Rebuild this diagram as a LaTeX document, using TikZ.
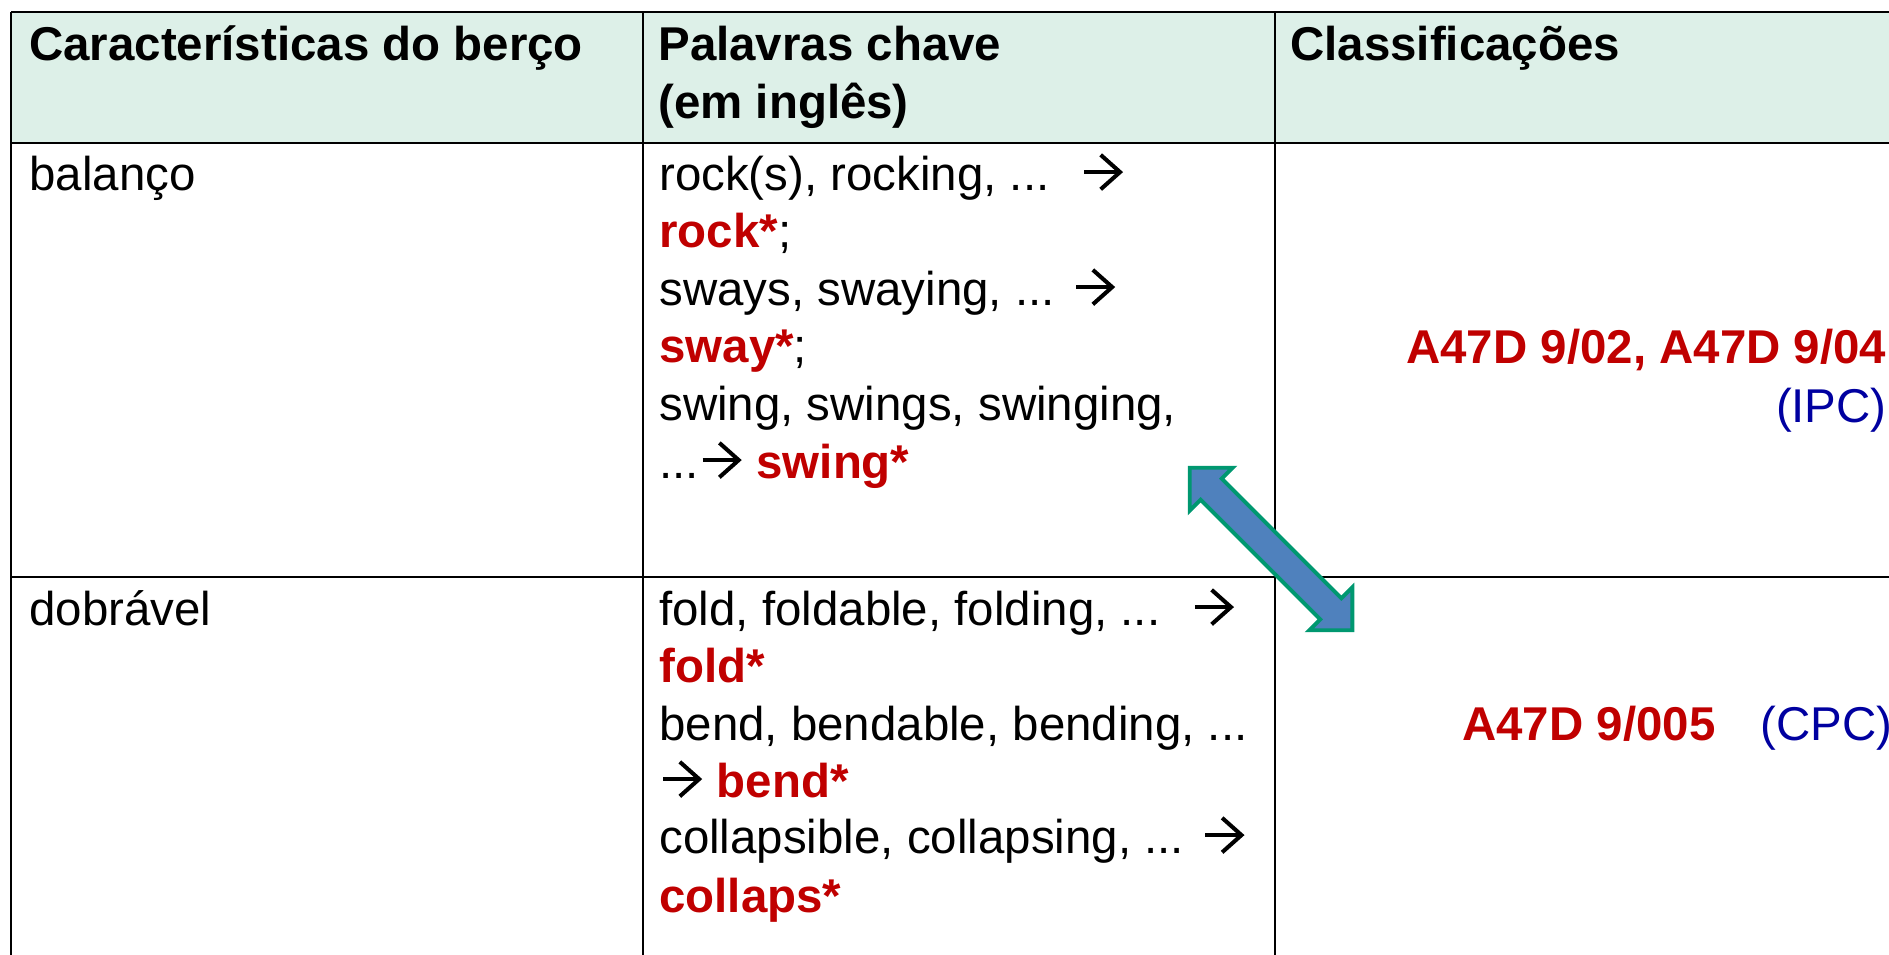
\documentclass[tikz,border=0pt]{standalone}
\usepackage{fontspec}
\setmainfont{Liberation Sans}
\usetikzlibrary{shapes.arrows}
\definecolor{headgreen}{RGB}{221,240,232}
\definecolor{keyred}{RGB}{192,0,0}
\definecolor{codeblue}{RGB}{0,0,160}
\definecolor{arrowblue}{RGB}{79,129,189}
\definecolor{arrowgreen}{RGB}{0,152,112}
\tikzset{cell/.style={anchor=base west, inner sep=0pt},
  headcell/.style={cell, font=\fontsize{27}{33}\selectfont\bfseries},
  rule/.style={line width=1.6pt},
  linkarrow/.style={double arrow, draw=arrowgreen, fill=arrowblue, line width=2.2pt,
    inner xsep=0pt, inner ysep=0.26cm, double arrow tip angle=90, double arrow head extend=0.31cm,
    minimum height=4.6cm, minimum width=1.14cm}}
\newcommand{\kw}[1]{\textcolor{keyred}{\bfseries #1}}
\newcommand{\toarr}{\kern1pt\tikz[baseline=0pt, x=1pt, y=1pt]{\draw[line width=2.3pt] (0,10.2) -- (20.5,10.2);
  \draw[line width=2.3pt] (9.5,20) -- (20.5,10.2) -- (9.5,0.4);}\kern1.5pt}
\begin{document}
\begin{tikzpicture}[x=0.02cm, y=-0.02cm, font=\fontsize{27}{33}\selectfont]
  \useasboundingbox (0,0) rectangle (1889,954);
  \clip (0,0) rectangle (1889,954);
  \fill[headgreen] (11,12) rectangle (1900,143);
  \draw[rule] (11,12) -- (1900,12);
  \draw[rule] (11,143) -- (1900,143);
  \draw[rule] (11,577) -- (1900,577);
  \draw[rule] (11,12) -- (11,960);
  \draw[rule] (643,12) -- (643,960);
  \draw[rule] (1275,12) -- (1275,960);

  \node[headcell] (feat) at (29,60) {Características do berço};
  \node[headcell] (words) at (658,60) {Palavras chave};
  \node[headcell] (wordsb) at (658,118) {(em inglês)};
  \node[headcell] (class) at (1290,60) {Classificações};

  \node[cell] (swingfeat) at (29,190) {balanço};
  \node[cell] (rocka) at (659,190) {rock(s), rocking, ...~ \toarr};
  \node[cell] (rockb) at (659,247) {\kw{rock*};};
  \node[cell] (swaya) at (659,305) {sways, swaying, ... \toarr};
  \node[cell] (swayb) at (659,362) {\kw{sway*};};
  \node[cell] (swinga) at (659,420) {swing, swings, swinging,};
  \node[cell] (swingb) at (659,478) {...\toarr\ \kw{swing*}};
  \node[cell] (ipc) at (1406,363) {\kw{A47D 9/02, A47D 9/04}};
  \node[cell, anchor=base east, text=codeblue] (ipctag) at (1887,422) {(IPC)};

  \node[cell] (foldfeat) at (29,625) {dobrável};
  \node[cell] (folda) at (659,625) {fold, foldable, folding, ...~ \toarr};
  \node[cell] (foldb) at (659,682) {\kw{fold*}};
  \node[cell] (benda) at (659,740) {bend, bendable, bending, ...};
  \node[cell] (bendb) at (659,797) {\toarr\ \kw{bend*}};
  \node[cell] (collapsa) at (659,853) {collapsible, collapsing, ... \toarr};
  \node[cell] (collapsb) at (659,912) {\kw{collaps*}};
  \node[cell] (cpc) at (1462,740) {\kw{A47D 9/005}};
  \node[cell, text=codeblue] (cpctag) at (1760,740) {(CPC)};

  \node[linkarrow, rotate=-45] (link) at (1271,549) {};
\end{tikzpicture}
\end{document}
